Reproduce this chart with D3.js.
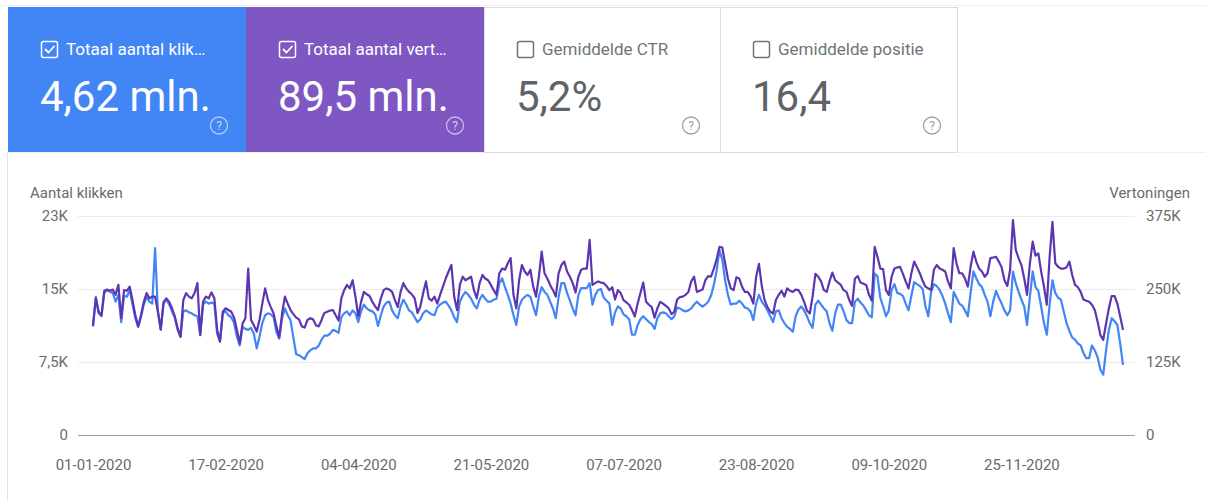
<!DOCTYPE html>
<html>
<head>
<meta charset="utf-8">
<script src="https://cdn.jsdelivr.net/npm/d3@7"></script>
<style>
  html, body { margin: 0; padding: 0; background: #ffffff; }
  svg { display: block; font-family: Roboto, "Noto Sans", sans-serif; }
</style>
</head>
<body>
<svg id="chart" width="1206" height="501"></svg>
<script>
// ---------------- DATA ----------------
const startDate = "2020-01-01";

// Daily clicks ("Aantal klikken"), 01-01-2020 .. 31-12-2020
const clicks = [
  11300,14200,12500,12200,14600,14900,14700,14600,13700,14400,
  11600,14300,14200,14900,13400,12000,11100,12100,13400,14200,
  13700,13500,19200,12700,10800,13500,13900,13400,12700,12000,
  10800,10100,12700,12800,12600,12500,12300,12200,10300,13400,
  13700,13500,13600,13500,10400,9600,12500,12700,12300,12100,
  11500,10100,9200,11100,10900,10800,11000,10400,8900,10100,
  11500,12300,12500,12400,12100,10600,9900,12000,13000,12300,
  11800,10000,8300,8200,8000,7800,8400,8700,8900,8900,
  9200,9800,10200,10200,10400,10800,10700,10500,12100,12500,
  12700,12300,12800,12500,11600,12700,13400,13000,12800,12700,
  12400,11200,12300,13200,13600,13700,12800,12300,12000,13200,
  13900,13400,12800,12600,12100,11600,11900,12500,12800,12600,
  12400,12300,13100,13400,13600,13700,13300,12800,12100,11600,
  13700,14300,14700,14400,14000,13400,13000,13900,14400,14000,
  13700,13700,13900,14000,15600,16100,15200,14400,13500,12300,
  11300,13200,13900,14200,14400,14200,13200,12300,14200,15200,
  14700,14400,13700,13000,12000,14200,15600,15600,14600,13800,
  13000,12300,14400,15100,15100,15100,15600,13400,14400,14900,
  15000,
  14100,13800,13500,11300,12600,13200,13000,12400,12200,11900,
  10300,10300,11300,11900,12200,11900,11600,11400,10900,12000,
  12500,12600,12500,12200,11900,12200,13100,13000,12800,12700,
  12800,13000,13400,13700,13400,13200,13400,13700,14300,15400,
  16900,19000,18000,15900,14400,13400,13500,13500,13800,13500,
  13100,13000,12700,11800,13500,14400,13700,13300,12800,12200,
  11600,12700,12800,12000,11500,11100,10900,10600,12200,12900,
  13200,12800,12200,11500,11000,13400,13800,13400,13000,12700,
  11500,10700,12500,13400,13400,12700,11800,11500,11500,13700,
  14000,13600,13300,12800,12300,12100,16600,16300,14100,13200,
  12200,12800,14900,15500,14600,14500,14300,13500,12800,14300,
  15700,15500,15300,15000,13200,12200,14700,15500,15300,14900,
  14300,13500,12500,11600,14700,14100,13500,13300,12800,12200,
  14600,16800,16100,15500,15200,14400,13700,12200,13700,14800,
  14100,13500,12800,12300,12800,16800,15600,14700,13900,13200,
  11300,14200,16800,15200,14800,13200,11500,10300,13400,15900,
  14600,14100,13900,12700,11500,10700,10000,9800,9400,9200,
  8400,7900,7900,9200,8700,8000,6700,6200,8700,10800,
  12000,11700,11300,9400,7200
];

// Daily impressions ("Vertoningen"), 01-01-2020 .. 31-12-2020
const impressions = [
  186000,234000,211000,205000,247000,249000,247000,249000,240000,257000,
  200000,248000,247000,254000,231000,205000,186000,205000,228000,243000,
  234000,237000,237000,211000,181000,228000,234000,228000,217000,203000,
  183000,168000,231000,243000,237000,234000,243000,260000,171000,228000,
  237000,234000,244000,234000,180000,160000,211000,217000,214000,211000,
  201000,180000,157000,191000,200000,285000,197000,188000,177000,197000,
  225000,251000,231000,219000,208000,186000,167000,208000,237000,225000,
  214000,207000,201000,198000,186000,184000,197000,200000,198000,188000,
  186000,197000,209000,211000,213000,214000,205000,196000,234000,248000,
  257000,251000,265000,237000,203000,228000,245000,241000,238000,228000,
  220000,214000,234000,248000,251000,249000,245000,231000,219000,245000,
  260000,251000,245000,241000,234000,209000,220000,243000,263000,234000,
  230000,237000,225000,240000,254000,268000,280000,291000,237000,214000,
  257000,271000,265000,268000,271000,248000,234000,260000,274000,268000,
  265000,257000,248000,240000,277000,285000,283000,294000,303000,240000,
  217000,265000,291000,280000,274000,283000,254000,237000,271000,314000,
  277000,268000,257000,248000,237000,277000,291000,297000,280000,271000,
  260000,244000,271000,283000,285000,285000,334000,257000,260000,263000,
  261000,
  260000,255000,248000,253000,232000,248000,243000,231000,227000,223000,
  214000,203000,225000,243000,261000,228000,223000,219000,201000,217000,
  228000,225000,221000,217000,207000,211000,232000,236000,237000,240000,
  245000,263000,271000,245000,247000,249000,265000,272000,271000,285000,
  301000,322000,321000,294000,268000,251000,248000,270000,268000,254000,
  245000,245000,238000,225000,271000,293000,255000,231000,219000,211000,
  208000,231000,240000,247000,237000,251000,247000,245000,249000,248000,
  240000,228000,213000,208000,237000,276000,271000,263000,248000,245000,
  263000,278000,265000,261000,257000,248000,245000,231000,221000,268000,
  272000,261000,259000,257000,240000,230000,322000,305000,285000,284000,
  248000,240000,271000,285000,287000,288000,276000,263000,251000,277000,
  297000,287000,277000,264000,254000,251000,248000,283000,291000,285000,
  283000,280000,263000,251000,320000,294000,277000,277000,268000,254000,
  288000,314000,297000,285000,280000,271000,277000,303000,304000,305000,
  297000,287000,265000,255000,283000,368000,317000,303000,291000,268000,
  240000,294000,331000,307000,311000,280000,254000,223000,305000,365000,
  294000,288000,285000,285000,287000,297000,274000,257000,253000,245000,
  232000,230000,228000,223000,214000,194000,171000,163000,191000,217000,
  238000,238000,225000,203000,180000
];

const xTickLabels = ["01-01-2020","17-02-2020","04-04-2020","21-05-2020",
                     "07-07-2020","23-08-2020","09-10-2020","25-11-2020"];
const leftTicks = [0, 7500, 15000, 22500];
const leftTickLabels = ["0", "7,5K", "15K", "23K"];
const rightTicks = [0, 125000, 250000, 375000];
const rightTickLabels = ["0", "125K", "250K", "375K"];
const leftAxisTitle = "Aantal klikken";
const rightAxisTitle = "Vertoningen";

const cardTitles = ["Totaal aantal klik\u2026", "Totaal aantal vert\u2026", "Gemiddelde CTR", "Gemiddelde positie"];
const cardValues = ["4,62 mln.", "89,5 mln.", "5,2%", "16,4"];
const cardChecked = [true, true, false, false];

// ---------------- DRAW ----------------
const svg = d3.select("#chart");
const parse = d3.timeParse("%Y-%m-%d");
const t0 = parse(startDate);
const dates = clicks.map((_, i) => d3.timeDay.offset(t0, i));
const tickDates = xTickLabels.map(s => d3.timeParse("%d-%m-%Y")(s));

const COL_BLUE = "#4285f4", COL_PURPLE = "#5e35b1", COL_CARD_PURPLE = "#7e57c2";
const cardFill = [COL_BLUE, COL_CARD_PURPLE, "#ffffff", "#ffffff"];

// frame lines
svg.append("line").attr("x1", 0).attr("x2", 1206).attr("y1", 5.5).attr("y2", 5.5)
  .attr("stroke", "#f0f0f0");
svg.append("line").attr("x1", 7.5).attr("x2", 7.5).attr("y1", 152).attr("y2", 501)
  .attr("stroke", "#e3e3e3");
svg.append("line").attr("x1", 7).attr("x2", 1206).attr("y1", 152.5).attr("y2", 152.5)
  .attr("stroke", "#eeeeee");

// cards
const cardX = [8, 246, 484, 720];
const cardW = [238, 238, 236, 237];
const cards = svg.selectAll("g.card").data(cardTitles).join("g")
  .attr("class", "card")
  .attr("transform", (d, i) => `translate(${cardX[i]},7)`);

cards.append("rect")
  .attr("x", (d, i) => i >= 2 ? 0.5 : 0).attr("y", (d, i) => i >= 2 ? 0.5 : 0)
  .attr("width", (d, i) => cardW[i]).attr("height", 145)
  .attr("fill", (d, i) => cardFill[i])
  .attr("stroke", (d, i) => i >= 2 ? "#dadce0" : "none");

cards.append("rect")
  .attr("x", 33.5).attr("y", 34.5).attr("width", 16).attr("height", 16).attr("rx", 2)
  .attr("fill", "none")
  .attr("stroke", (d, i) => i < 2 ? "#ffffff" : "#6f7378")
  .attr("stroke-width", 1.5);

cards.filter((d, i) => cardChecked[i]).append("path")
  .attr("d", "M37.5,42.5 L40.5,45.5 L46,39.5")
  .attr("fill", "none").attr("stroke", "#ffffff").attr("stroke-width", 1.8)
  .attr("stroke-linecap", "round").attr("stroke-linejoin", "round");

cards.append("text")
  .attr("x", 58).attr("y", 48)
  .attr("font-size", 17)
  .attr("fill", (d, i) => i < 2 ? "#ffffff" : "#70757a")
  .text(d => d);

cards.append("text")
  .attr("x", 32).attr("y", 104)
  .attr("font-size", 42)
  .attr("fill", (d, i) => i < 2 ? "#ffffff" : "#5f6368")
  .text((d, i) => cardValues[i]);

const helpX = [211, 209, 207, 212];
cards.append("circle")
  .attr("cx", (d, i) => helpX[i]).attr("cy", 118.5).attr("r", 8.5)
  .attr("fill", "none")
  .attr("stroke", (d, i) => i < 2 ? "rgba(255,255,255,0.6)" : "#9aa0a6")
  .attr("stroke-width", 1.3);
cards.append("text")
  .attr("x", (d, i) => helpX[i]).attr("y", 123)
  .attr("text-anchor", "middle").attr("font-size", 12)
  .attr("fill", (d, i) => i < 2 ? "rgba(255,255,255,0.7)" : "#9aa0a6")
  .text("?");

// scales
const x = d3.scaleTime().domain([dates[0], dates[dates.length - 1]]).range([93, 1123]);
const yL = d3.scaleLinear().domain([0, 22500]).range([435, 216]);
const yR = d3.scaleLinear().domain([0, 375000]).range([435, 216]);
const gridL = 78, gridR = 1135;

// left axis with gridlines
const gL = svg.append("g").attr("transform", `translate(${gridL},0)`)
  .call(d3.axisLeft(yL).tickValues(leftTicks)
    .tickSizeInner(-(gridR - gridL)).tickSizeOuter(0).tickPadding(10)
    .tickFormat((d, i) => leftTickLabels[i]));
gL.select(".domain").remove();
gL.selectAll(".tick line").attr("stroke", (d) => d === 0 ? "#9e9e9e" : "#ececec");
gL.selectAll(".tick text").attr("fill", "#6b6b6b").attr("font-size", 15)
  .attr("font-family", "Roboto, sans-serif");

// right axis
const gR = svg.append("g").attr("transform", `translate(${gridR},0)`)
  .call(d3.axisRight(yR).tickValues(rightTicks).tickSize(0).tickPadding(11)
    .tickFormat((d, i) => rightTickLabels[i]));
gR.select(".domain").remove();
gR.selectAll(".tick text").attr("fill", "#6b6b6b").attr("font-size", 15)
  .attr("font-family", "Roboto, sans-serif");

// bottom axis
const gB = svg.append("g").attr("transform", "translate(0,435)")
  .call(d3.axisBottom(x).tickValues(tickDates).tickSize(0).tickPadding(24)
    .tickFormat((d, i) => xTickLabels[i]));
gB.select(".domain").remove();
gB.selectAll(".tick text").attr("fill", "#6b6b6b").attr("font-size", 15)
  .attr("font-family", "Roboto, sans-serif");

// axis titles
svg.append("text").attr("x", 30).attr("y", 198).attr("font-size", 15)
  .attr("fill", "#6b6b6b").text(leftAxisTitle);
svg.append("text").attr("x", 1190).attr("y", 198).attr("font-size", 15)
  .attr("text-anchor", "end").attr("fill", "#6b6b6b").text(rightAxisTitle);

// lines
const lineL = d3.line().x((d, i) => x(dates[i])).y(d => yL(d));
const lineR = d3.line().x((d, i) => x(dates[i])).y(d => yR(d));

svg.append("path").datum(clicks).attr("d", lineL)
  .attr("fill", "none").attr("stroke", COL_BLUE).attr("stroke-width", 2.2)
  .attr("stroke-linejoin", "round");
svg.append("path").datum(impressions).attr("d", lineR)
  .attr("fill", "none").attr("stroke", COL_PURPLE).attr("stroke-width", 2.2)
  .attr("stroke-linejoin", "round");
</script>
</body>
</html>
